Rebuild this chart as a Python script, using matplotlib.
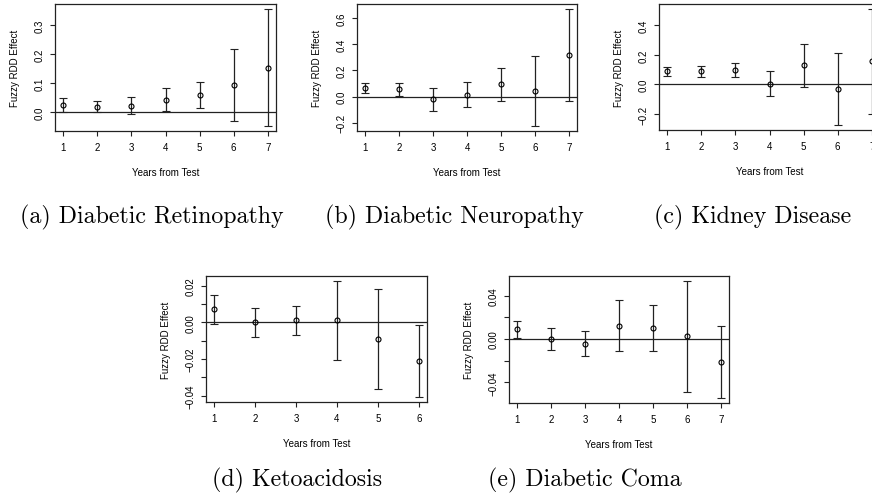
import numpy as np
import matplotlib.pyplot as plt

W, H = 872, 502

years7 = [1, 2, 3, 4, 5, 6, 7]
years6 = [1, 2, 3, 4, 5, 6]

# (a) Diabetic Retinopathy
ret_est = [0.025, 0.020, 0.022, 0.043, 0.060, 0.094, 0.154]
ret_lo = [0.002, 0.001, -0.006, 0.004, 0.016, -0.030, -0.048]
ret_hi = [0.049, 0.039, 0.052, 0.083, 0.104, 0.218, 0.356]

# (b) Diabetic Neuropathy
neu_est = [0.064, 0.054, -0.021, 0.015, 0.095, 0.041, 0.320]
neu_lo = [0.025, 0.005, -0.108, -0.077, -0.031, -0.228, -0.031]
neu_hi = [0.105, 0.105, 0.064, 0.110, 0.218, 0.308, 0.672]

# (c) Kidney Disease
kid_est = [0.090, 0.090, 0.097, 0.005, 0.131, -0.031, 0.160]
kid_lo = [0.059, 0.050, 0.050, -0.081, -0.016, -0.277, -0.198]
kid_hi = [0.120, 0.126, 0.145, 0.093, 0.273, 0.212, 0.513]

# (d) Ketoacidosis
ket_est = [0.0070, 0.0000, 0.0011, 0.0011, -0.0090, -0.0211]
ket_lo = [-0.0009, -0.0079, -0.0070, -0.0207, -0.0366, -0.0409]
ket_hi = [0.0148, 0.0077, 0.0088, 0.0227, 0.0184, -0.0016]

# (e) Diabetic Coma
com_est = [0.0093, 0.0000, -0.0043, 0.0120, 0.0099, 0.0031, -0.0213]
com_lo = [0.0009, -0.0099, -0.0158, -0.0114, -0.0114, -0.0485, -0.0547]
com_hi = [0.0170, 0.0099, 0.0077, 0.0358, 0.0315, 0.0540, 0.0120]

panels = [
    dict(x=years7, est=ret_est, lo=ret_lo, hi=ret_hi,
         ticks=[0.0, 0.1, 0.2, 0.3], labels=['0.0', '0.1', '0.2', '0.3'],
         box=(55, 5, 276, 132), caption='(a) Diabetic Retinopathy', cap=(152, 217)),
    dict(x=years7, est=neu_est, lo=neu_lo, hi=neu_hi,
         ticks=[-0.2, 0.0, 0.2, 0.4, 0.6], labels=['\u22120.2', '0.0', '0.2', '0.4', '0.6'],
         box=(357, 5, 577, 132), caption='(b) Diabetic Neuropathy', cap=(454, 217)),
    dict(x=years7, est=kid_est, lo=kid_lo, hi=kid_hi,
         ticks=[-0.2, 0.0, 0.2, 0.4], labels=['\u22120.2', '0.0', '0.2', '0.4'],
         box=(659, 5, 880, 131), caption='(c) Kidney Disease', cap=(753, 217)),
    dict(x=years6, est=ket_est, lo=ket_lo, hi=ket_hi,
         ticks=[-0.04, -0.03, -0.02, -0.01, 0.0, 0.01, 0.02],
         labels=['\u22120.04', '', '\u22120.02', '', '0.00', '', '0.02'],
         box=(206, 277, 427, 403), caption='(d) Ketoacidosis', cap=(297, 480)),
    dict(x=years7, est=com_est, lo=com_lo, hi=com_hi,
         ticks=[-0.04, -0.02, 0.0, 0.02, 0.04],
         labels=['\u22120.04', '', '0.00', '', '0.04'],
         box=(509, 277, 729, 404), caption='(e) Diabetic Coma', cap=(585, 480)),
]

plt.rcParams['font.family'] = ['Liberation Sans', 'DejaVu Sans']

fig = plt.figure(figsize=(W / 100, H / 100), dpi=100)

for p in panels:
    x0, y0, x1, y1 = p['box']
    ax = fig.add_axes([x0 / W, 1 - y1 / H, (x1 - x0) / W, (y1 - y0) / H])
    est = np.array(p['est'])
    lo = np.array(p['lo'])
    hi = np.array(p['hi'])
    xs = np.array(p['x'])

    ax.axhline(0, color='#222222', lw=0.9, zorder=1)
    ax.errorbar(xs, est, yerr=[est - lo, hi - est], fmt='o', mfc='none', mec='black',
                ms=3.6, mew=0.8, ecolor='#222222', elinewidth=0.9, capsize=2.6,
                capthick=0.9, zorder=2)

    # R style limits: 4% padding on each side
    xr = xs.max() - xs.min()
    ax.set_xlim(xs.min() - 0.04 * xr, xs.max() + 0.04 * xr)
    ymin, ymax = lo.min(), hi.max()
    yr = ymax - ymin
    ax.set_ylim(ymin - 0.04 * yr, ymax + 0.04 * yr)

    ax.set_xticks(xs)
    ax.set_yticks(p['ticks'], p['labels'])
    ax.tick_params(axis='both', direction='out', length=3.3, width=0.8,
                   labelsize=7, color='#222222')
    ax.tick_params(axis='y', labelrotation=90, pad=4.0)
    ax.tick_params(axis='x', pad=4.6)
    for lab in ax.get_yticklabels():
        lab.set_va('center')
    for s in ax.spines.values():
        s.set_linewidth(0.9)
        s.set_color('#222222')

    ax.set_xlabel('Years from Test', fontsize=7)
    ax.set_ylabel('Fuzzy RDD Effect', fontsize=7)
    h = y1 - y0
    w = x1 - x0
    ax.xaxis.set_label_coords(0.5, -41 / h)
    ax.xaxis.label.set_va('center')
    ax.yaxis.set_label_coords(-40 / w, 0.5)
    ax.yaxis.label.set_va('center')

    cx, cy = p['cap']
    fig.text(cx / W, 1 - cy / H, p['caption'], family='cmr10', fontsize=17.2,
             ha='center', va='center')

fig.savefig('out.png', dpi=100)
